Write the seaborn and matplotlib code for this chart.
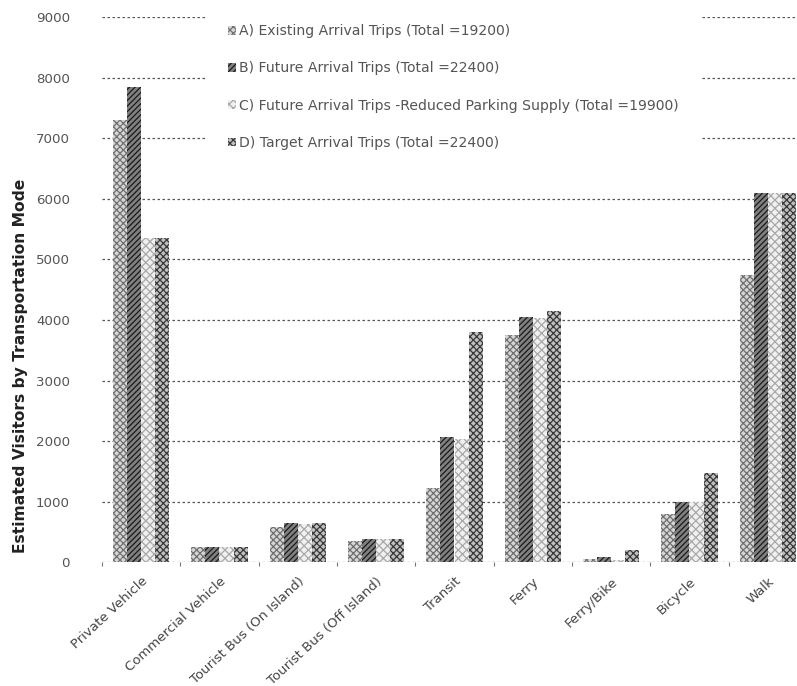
import matplotlib
matplotlib.use("Agg")
import matplotlib.pyplot as plt
from matplotlib.ticker import FixedLocator, MultipleLocator
import seaborn as sns
import pandas as pd

# Transportation modes (x categories)
modes = ["Private Vehicle", "Commercial Vehicle", "Tourist Bus (On Island)",
         "Tourist Bus (Off Island)", "Transit", "Ferry", "Ferry/Bike",
         "Bicycle", "Walk"]

# Scenario labels
scenarios = [
    "A) Existing Arrival Trips (Total =19200)",
    "B) Future Arrival Trips (Total =22400)",
    "C) Future Arrival Trips -Reduced Parking Supply (Total =19900)",
    "D) Target Arrival Trips (Total =22400)",
]

# Estimated visitors per mode for each scenario
existing = [7300, 250, 590, 350, 1220, 3750, 50, 800, 4750]
future = [7850, 260, 650, 380, 2070, 4050, 80, 1000, 6100]
reduced_parking = [5350, 250, 640, 380, 2030, 4040, 45, 1000, 6100]
target = [5350, 250, 650, 380, 3800, 4150, 200, 1480, 6100]

y_ticks = [0, 1000, 2000, 3000, 4000, 5000, 6000, 7000, 8000, 9000]

df = pd.DataFrame({
    "mode": modes * 4,
    "scenario": [s for s in scenarios for _ in modes],
    "visitors": existing + future + reduced_parking + target,
})

sns.set_theme(style="white")
plt.rcParams["font.family"] = ["DejaVu Sans"]
plt.rcParams["hatch.linewidth"] = 0.9

fig = plt.figure(figsize=(7.97, 6.86), dpi=100)
ax = fig.add_axes([102 / 797, (686 - 562.3) / 686, 705 / 797, 545.3 / 686])

sns.barplot(data=df, x="mode", y="visitors", hue="scenario",
            order=modes, hue_order=scenarios, width=0.72, gap=0,
            legend=False, ax=ax, zorder=2)

# fill tone, hatch colour and hatch pattern for each scenario
styles = [
    ("#d6d6d6", "#707070", "xxxxx"),
    ("#808080", "#1a1a1a", "//////"),
    ("#f0f0f0", "#a8a8a8", "xxxx"),
    ("#c0c0c0", "#383838", "xxxxx"),
]
for container, (face, hcol, hatch) in zip(ax.containers, styles):
    for bar in container.patches:
        bar.set_facecolor(face)
        bar.set_edgecolor(hcol)
        bar.set_hatch(hatch)
        bar.set_linewidth(0)

ax.set_xlim(-0.5, len(modes) - 0.5)
ax.set_ylim(0, 9000)
ax.yaxis.set_major_locator(FixedLocator(y_ticks))
ax.set_yticklabels([str(v) for v in y_ticks])

for side in ax.spines.values():
    side.set_visible(False)

ax.grid(axis="y", which="major", linestyle=(0, (2, 2)), color="#555555",
        linewidth=0.9, zorder=0)
ax.set_axisbelow(True)

ax.tick_params(axis="y", length=0, pad=23, labelsize=9.6, labelcolor="#555555")
ax.tick_params(axis="x", which="major", length=0, pad=9, labelsize=9.5,
               labelcolor="#444444")
ax.xaxis.set_minor_locator(MultipleLocator(1, offset=0.5))
ax.tick_params(axis="x", which="minor", bottom=True, length=3, width=0.8,
               color="#777777", direction="out")
ax.set_xticks(range(len(modes)))
ax.set_xticklabels(modes, rotation=43, ha="right", rotation_mode="anchor")

ax.set_xlabel("")
ax.set_ylabel("Estimated Visitors by Transportation Mode", fontsize=11.2,
              fontweight="bold", color="#222222")
ax.yaxis.set_label_coords(-74 / 705, 0.36)

handles = [c.patches[0] for c in ax.containers]
leg = ax.legend(handles, scenarios, loc="upper left",
                bbox_to_anchor=(207 / 797, 1 - 3 / 686),
                bbox_transform=fig.transFigure, frameon=True,
                fontsize=10.1, labelspacing=1.66, handlelength=0.6,
                handleheight=0.6, handletextpad=0.2, borderpad=1.5,
                borderaxespad=0)
leg.get_frame().set_facecolor("white")
leg.get_frame().set_edgecolor("none")
leg.get_frame().set_alpha(1)
for t in leg.get_texts():
    t.set_color("#555555")

fig.savefig("out.png", dpi=100)
